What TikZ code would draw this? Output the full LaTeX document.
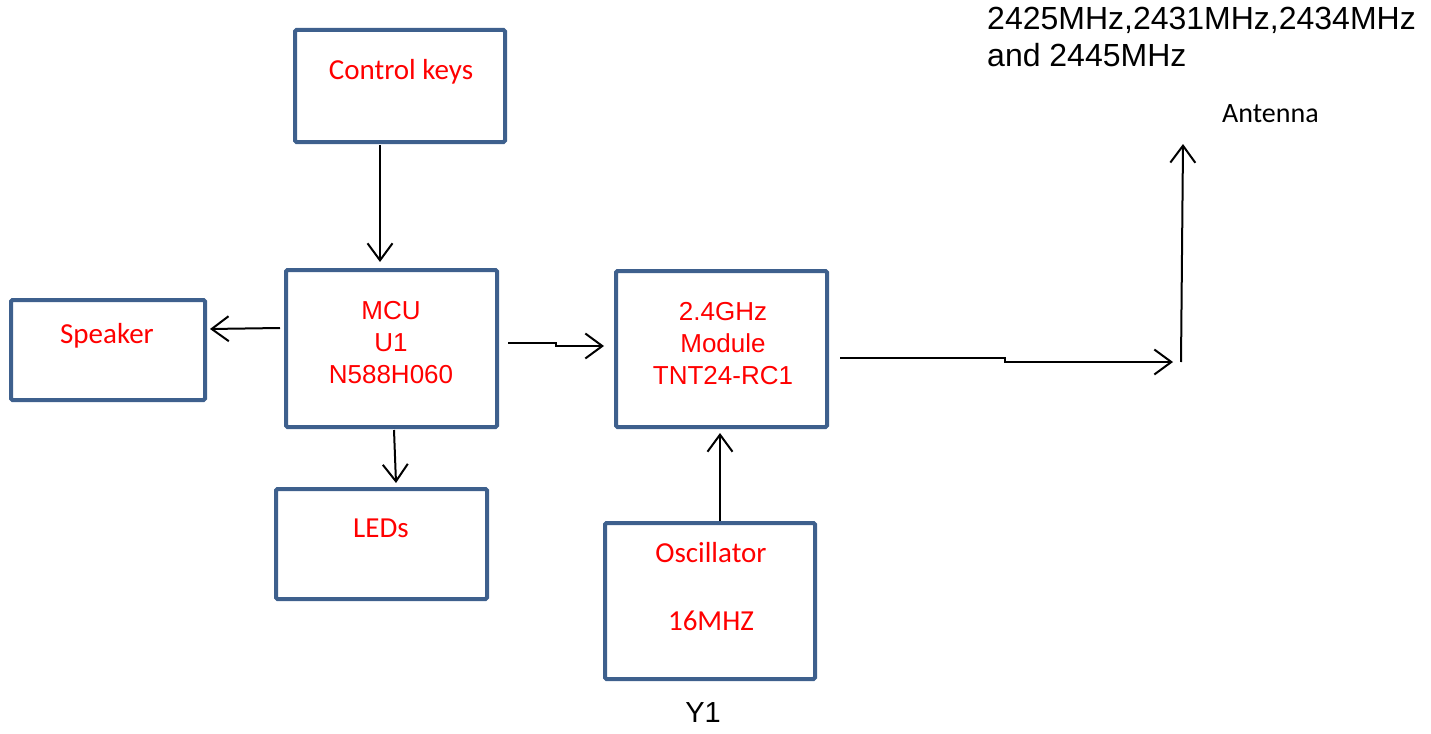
\documentclass[tikz,border=0pt]{standalone}
\usepackage{fontspec}
\setmainfont{Liberation Sans}
\newfontfamily\calfont{Carlito}
\usetikzlibrary{arrows.meta}
\definecolor{boxblue}{RGB}{62,96,141}
\definecolor{txtred}{RGB}{255,0,0}
\tikzset{
  blk/.style={draw=boxblue, line width=4pt, rounded corners=1.5pt, inner sep=0pt},
  cal/.style={font=\calfont\fontsize{29}{33}\selectfont, text=txtred, anchor=base},
  ari/.style={font=\fontsize{26}{32}\selectfont, text=txtred, anchor=base},
  conn/.style={line width=2pt, -{Straight Barb[length=17pt,width=25pt,line width=2pt]}},
  wire/.style={line width=2pt}
}
\begin{document}
\begin{tikzpicture}[x=1pt,y=-1pt]
\useasboundingbox (0,0) rectangle (1431,733);
% boxes
\node[blk, minimum width=210pt, minimum height=112pt] (ck) at (400,86) {};
\node[blk, minimum width=211pt, minimum height=157pt] (mcu) at (391.5,348.5) {};
\node[blk, minimum width=211pt, minimum height=156pt] (mod) at (721.5,349) {};
\node[blk, minimum width=210pt, minimum height=156pt] (osc) at (710,601) {};
\node[blk, minimum width=194pt, minimum height=100pt] (spk) at (108,350) {};
\node[blk, minimum width=211pt, minimum height=110pt] (led) at (381.5,544) {};
% texts
\node[cal] (tck) at (401,80) {Control keys};
\node[ari] (tm1) at (391,319) {MCU};
\node[ari] (tm2) at (391,351) {U1};
\node[ari] (tm3) at (391,383) {N588H060};
\node[ari] (tg1) at (723,320) {2.4GHz};
\node[ari] (tg2) at (723,352) {Module};
\node[ari] (tg3) at (723,384) {TNT24-RC1};
\node[cal] (tos) at (711,562) {Oscillator};
\node[cal] (t16) at (711,630) {16MHZ};
\node[cal] (tsp) at (107,343) {Speaker};
\node[cal] (tld) at (381,537) {LEDs};
\node[font=\fontsize{29}{32}\selectfont, anchor=base] (ty1) at (703,722) {Y1};
\node[font=\calfont\fontsize{28}{32}\selectfont, anchor=base west, inner sep=0pt] (tan) at (1222,123) {Antenna};
\node[font=\fontsize{32}{37}\selectfont, anchor=base west, inner sep=0pt] (tf1) at (987,30) {2425MHz,2431MHz,2434MHz};
\node[font=\fontsize{32}{37}\selectfont, anchor=base west, inner sep=0pt] (tf2) at (987,67) {and 2445MHz};
% connector end points
\coordinate (a1) at (380,145);
\coordinate (a2) at (380,262);
\coordinate (b1) at (280,328);
\coordinate (b2) at (210,329);
\coordinate (c1) at (508,343);
\coordinate (c2) at (556,343);
\coordinate (c3) at (556,346);
\coordinate (c4) at (604,346);
\coordinate (d1) at (840,358);
\coordinate (d2) at (1005,358);
\coordinate (d3) at (1005,362);
\coordinate (d4) at (1173,362);
\coordinate (e1) at (1181,362);
\coordinate (e2) at (1183,144);
\coordinate (f1) at (394,430);
\coordinate (f2) at (396,483);
\coordinate (g1) at (720,521);
\coordinate (g2) at (720,433);
% connectors
\draw[conn] (a1) -- (a2);
\draw[conn] (b1) -- (b2);
\draw[conn] (c1) -- (c2) -- (c3) -- (c4);
\draw[conn] (d1) -- (d2) -- (d3) -- (d4);
\draw[conn] (e1) -- (e2);
\draw[conn] (f1) -- (f2);
\draw[conn] (g1) -- (g2);
\end{tikzpicture}
\end{document}
